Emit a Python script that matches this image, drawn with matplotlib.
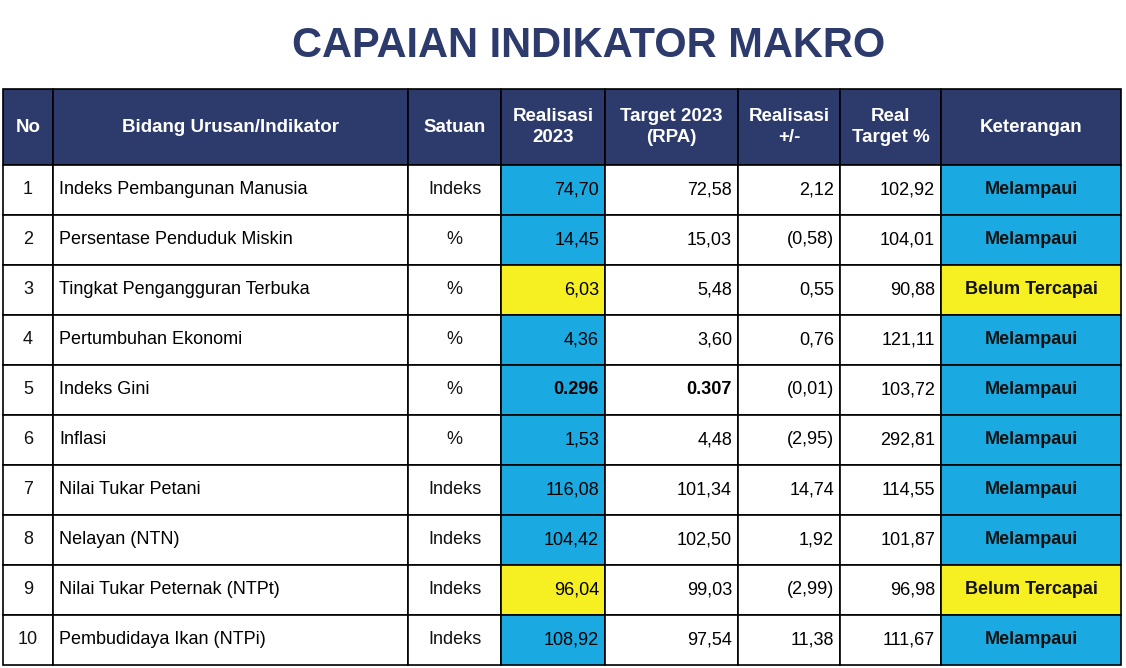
import matplotlib
matplotlib.use("Agg")
import matplotlib.pyplot as plt
from matplotlib.patches import Rectangle

title = "CAPAIAN INDIKATOR MAKRO"
headers = ["No", "Bidang Urusan/Indikator", "Satuan", "Realisasi\n2023", "Target 2023\n(RPA)", "Realisasi\n+/-", "Real\nTarget %", "Keterangan"]
no = ["1", "2", "3", "4", "5", "6", "7", "8", "9", "10"]
indikator = ["Indeks Pembangunan Manusia", "Persentase Penduduk Miskin", "Tingkat Pengangguran Terbuka",
             "Pertumbuhan Ekonomi", "Indeks Gini", "Inflasi", "Nilai Tukar Petani", "Nelayan (NTN)",
             "Nilai Tukar Peternak (NTPt)", "Pembudidaya Ikan (NTPi)"]
satuan = ["Indeks", "%", "%", "%", "%", "%", "Indeks", "Indeks", "Indeks", "Indeks"]
realisasi = ["74,70", "14,45", "6,03", "4,36", "0.296", "1,53", "116,08", "104,42", "96,04", "108,92"]
target = ["72,58", "15,03", "5,48", "3,60", "0.307", "4,48", "101,34", "102,50", "99,03", "97,54"]
selisih = ["2,12", "(0,58)", "0,55", "0,76", "(0,01)", "(2,95)", "14,74", "1,92", "(2,99)", "11,38"]
real_target = ["102,92", "104,01", "90,88", "121,11", "103,72", "292,81", "114,55", "101,87", "96,98", "111,67"]
keterangan = ["Melampaui", "Melampaui", "Belum Tercapai", "Melampaui", "Melampaui", "Melampaui",
              "Melampaui", "Melampaui", "Belum Tercapai", "Melampaui"]

W, H = 1126, 668
fig = plt.figure(figsize=(W/100, H/100), dpi=100)
ax = fig.add_axes([0, 0, 1, 1])
ax.set_xlim(0, W); ax.set_ylim(H, 0); ax.axis("off")

NAVY = "#2c3a6c"; BLUE = "#1ba9e1"; YEL = "#f6ef22"
edges = [3, 53, 408, 501, 605, 738, 840, 941, 1121]
top, hdr_bot, rh = 89, 165, 50

ax.text(W/2 + 26, 46, title, ha="center", va="center", fontsize=30, fontweight="bold", color=NAVY, family="Liberation Sans")

for j, h in enumerate(headers):
    x0, x1 = edges[j], edges[j+1]
    ax.add_patch(Rectangle((x0, top), x1-x0, hdr_bot-top, fc=NAVY, ec="black", lw=1.2))
    ax.text((x0+x1)/2, (top+hdr_bot)/2, h, ha="center", va="center", color="white",
            fontsize=13.5, fontweight="bold", family="Liberation Sans", linespacing=1.3)

for i in range(len(no)):
    y0 = hdr_bot + i*rh; yc = y0 + rh/2
    cells = [no[i], indikator[i], satuan[i], realisasi[i], target[i], selisih[i], real_target[i], keterangan[i]]
    status_col = BLUE if keterangan[i] == "Melampaui" else YEL
    for j, c in enumerate(cells):
        x0, x1 = edges[j], edges[j+1]
        fc = status_col if j in (3, 7) else "white"
        ax.add_patch(Rectangle((x0, y0), x1-x0, rh, fc=fc, ec="black", lw=1.2))
        bold = j == 7 or c in ("0.296", "0.307")
        if j == 1:
            ax.text(x0+6, yc, c, ha="left", va="center", fontsize=13, family="Liberation Sans")
        elif j in (0, 2, 7):
            ax.text((x0+x1)/2, yc, c, ha="center", va="center", fontsize=13,
                    fontweight="bold" if bold else "normal", family="Liberation Sans", color="#111111")
        else:
            ax.text(x1-6, yc, c, ha="right", va="center", fontsize=13,
                    fontweight="bold" if bold else "normal", family="Liberation Sans")

fig.savefig("out.png", dpi=100)
